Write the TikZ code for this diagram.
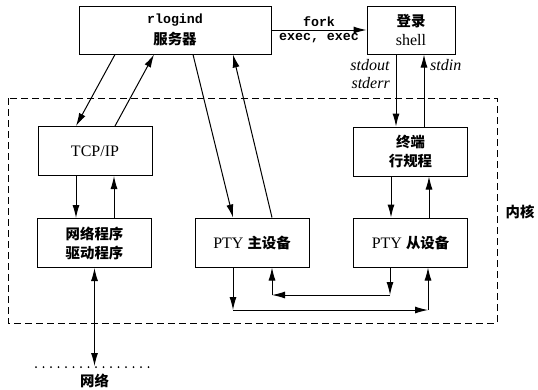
\documentclass[tikz,border=0pt]{standalone}
\usepackage{fontspec}
\setmainfont{Liberation Serif}
\setmonofont{Liberation Mono}[Scale=0.83]
\newfontfamily\cjk{Noto Sans CJK SC}[Scale=0.9]
\usetikzlibrary{arrows.meta,calc}
\tikzset{
  box/.style={draw, line width=1pt, minimum width=114pt, minimum height=49pt, align=center, inner sep=2pt, font=\fontsize{16}{19}\selectfont},
  lbl/.style={inner sep=1pt, align=center, font=\fontsize{16}{18}\selectfont},
  arr/.style={-{Latex[length=13pt,width=7pt]}, line width=1pt},
  twoarr/.style={{Latex[length=13pt,width=7pt]}-{Latex[length=13pt,width=7pt]}, line width=1pt},
  kernel/.style={draw, line width=0.9pt, dash pattern=on 7pt off 4pt},
}
\newcommand{\zh}[1]{{\cjk\bfseries #1}}
\newcommand{\cmd}[1]{{\ttfamily\bfseries #1}}

\begin{document}
\begin{tikzpicture}[x=1pt, y=-1pt]
  \useasboundingbox (0,0) rectangle (538,389);
  % user side
  \node[box, minimum width=192pt, minimum height=48pt] (rlogind) at (175,30) {\cmd{rlogind}\\[2pt]\zh{服务器}};
  \node[box, minimum width=88pt, minimum height=48pt] (shell) at (411,30) {\zh{登录}\\shell};
  % kernel
  \draw[kernel] (8,98) rectangle (497,323);
  \node[lbl] (kern) at (520,212) {\zh{内核}};
  \node[box] (tcp) at (95,151) {TCP/IP};
  \node[box] (ldisc) at (410.5,151.5) {\zh{终端}\\\zh{行规程}};
  \node[box] (drv) at (94.5,243) {\zh{网络程序}\\\zh{驱动程序}};
  \node[box] (ptym) at (252,242.5) {PTY \zh{主设备}};
  \node[box] (ptys) at (410.5,242.5) {PTY \zh{从设备}};
  % rlogind links
  \draw[arr] ([xshift=-60pt]rlogind.south) -- ([xshift=-19pt]tcp.north);
  \draw[arr] ([xshift=20pt]tcp.north) -- ([xshift=-21pt]rlogind.south);
  \draw[arr] ([xshift=18pt]rlogind.south) -- ([xshift=-19pt]ptym.north);
  \draw[arr] ([xshift=20pt]ptym.north) -- ([xshift=58pt]rlogind.south);
  \draw[arr] (rlogind.east) -- (shell.west)
    node[lbl, midway, above=2pt] {\cmd{fork}}
    node[lbl, midway, below=2pt] {\cmd{exec, exec}};
  % shell and line discipline
  \draw[arr] ([xshift=-15pt]shell.south) -- ([xshift=-14.5pt]ldisc.north);
  \draw[arr] ([xshift=13.5pt]ldisc.north) -- ([xshift=13pt]shell.south);
  \node[lbl, anchor=east, align=right] (outlbl) at (391,74) {\textit{stdout}\\\textit{stderr}};
  \node[lbl, anchor=west] (inlbl) at (429,65) {\textit{stdin}};
  \draw[arr] ([xshift=-19.5pt]ldisc.south) -- ([xshift=-19.5pt]ptys.north);
  \draw[arr] ([xshift=18.5pt]ptys.north) -- ([xshift=18.5pt]ldisc.south);
  % tcp and driver
  \draw[arr] ([xshift=-19pt]tcp.south) -- ([xshift=-18.5pt]drv.north);
  \draw[arr] ([xshift=19.5pt]drv.north) -- ([xshift=19pt]tcp.south);
  % master <-> slave
  \coordinate (ma) at (233,310);
  \coordinate (sa) at (428,310);
  \draw[arr] ([xshift=-19pt]ptym.south) -- (ma);
  \draw[arr] (ma) -- (sa);
  \draw[arr] (sa) -- ([xshift=17.5pt]ptys.south);
  \coordinate (sb) at (390,295);
  \coordinate (mb) at (272,295);
  \draw[arr] ([xshift=-20.5pt]ptys.south) -- (sb);
  \draw[arr] (sb) -- (mb);
  \draw[arr] (mb) -- ([xshift=20pt]ptym.south);
  % network
  \coordinate (net) at (94.5,366);
  \draw[twoarr] (drv.south) -- (net);
  \draw[line width=2pt, line cap=round, dash pattern=on 0pt off 7.5pt] (36,367) -- (153,367);
  \node[lbl] (netlbl) at (94.5,381) {\zh{网络}};
\end{tikzpicture}
\end{document}
